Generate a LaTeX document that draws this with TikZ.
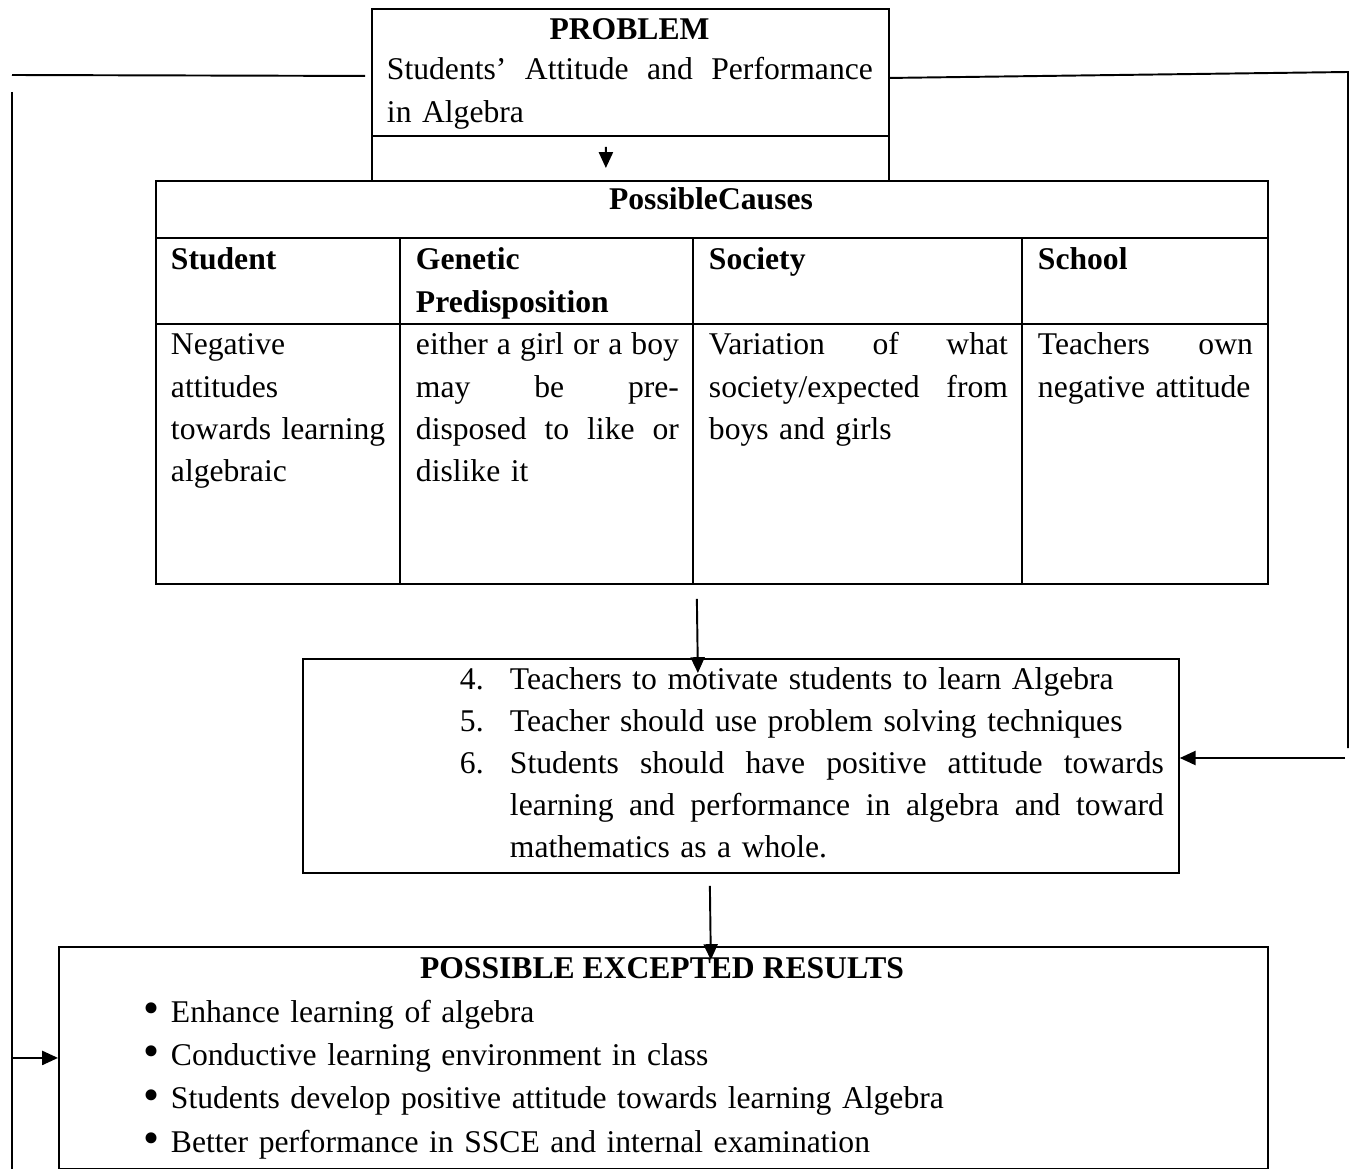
\documentclass[tikz,border=0pt]{standalone}
\usepackage{fontspec}
\usepackage{graphicx}
\setmainfont{Liberation Serif}
\usetikzlibrary{arrows.meta}
\newcommand{\fillline}[2]{\leavevmode\hbox to #1{\spaceskip=0.25em plus 1fil\relax #2}}
\newcommand{\numitem}[1]{\leavevmode\llap{\makebox[1cm][l]{#1}}}
\newcommand{\bulitem}{\leavevmode\llap{\makebox[0.54cm][l]{\raisebox{-0.05em}{\scalebox{1.45}{\textbullet}}}}}

\begin{document}
\begin{tikzpicture}[x=0.02cm,y=-0.02cm,line width=1.1pt,color=black,
    >={Triangle[length=9pt,width=8pt]},
    font=\fontsize{18}{24}\selectfont,
    box/.style={draw,inner sep=0pt,anchor=north west},
    txt/.style={inner sep=0pt,anchor=base west,align=left},
    head/.style={inner sep=0pt,anchor=base,font=\fontsize{18}{24}\selectfont\bfseries},
    bhead/.style={txt,font=\fontsize{18}{24}\selectfont\bfseries}]
\useasboundingbox (0,0) rectangle (1353,1169);
% boxes
\node[box,minimum width=10.34cm,minimum height=2.54cm] (prob) at (371,8) {};
\node[box,minimum width=10.34cm,minimum height=0.9cm] (probsub) at (371,135) {};
\node[box,minimum width=22.24cm,minimum height=8.06cm] (causes) at (155,180) {};
\node[box,minimum width=17.52cm,minimum height=4.28cm] (rec) at (302,658) {};
\node[box,minimum width=24.18cm,minimum height=4.44cm] (res) at (58,946) {};
% table grid
\draw (155,238) -- (1267,238);
\draw (155,324) -- (1267,324);
\foreach \x in {400,693,1022} \draw (\x,238) -- (\x,583);
% problem
\node[head] (ptitle) at (629.5,40) {PROBLEM};
\node[txt,text width=9.72cm] (ptext) at (386,80)
  {\fillline{9.72cm}{Students’ Attitude and Performance}\\in Algebra};
% causes
\node[head] (ctitle) at (711,210) {PossibleCauses};
\node[bhead] (hstud) at (170,270) {Student};
\node[bhead,text width=5.26cm] (hgen) at (415,270) {Genetic\\Predisposition};
\node[bhead] (hsoc) at (708,270) {Society};
\node[bhead] (hsch) at (1037,270) {School};
\node[txt,text width=4.3cm] (bstud) at (170,355)
  {Negative\\attitudes\\towards learning\\algebraic};
\node[txt,text width=5.26cm] (bgen) at (415,355)
  {\fillline{5.26cm}{either a girl or a boy}\\\fillline{5.26cm}{may be pre-}\\
   \fillline{5.26cm}{disposed to like or}\\dislike it};
\node[txt,text width=5.98cm] (bsoc) at (708,355)
  {\fillline{5.98cm}{Variation of what}\\\fillline{5.98cm}{society/expected from}\\boys and girls};
\node[txt,text width=4.3cm] (bsch) at (1037,355)
  {\fillline{4.3cm}{Teachers own}\\negative attitude};
% recommendations
\node[txt,text width=13.08cm] (rtext) at (509,689)
  {\numitem{4.}Teachers to motivate students to learn Algebra\\
   \numitem{5.}Teacher should use problem solving techniques\\
   \numitem{6.}\fillline{13.08cm}{Students should have positive attitude towards}\\
   \fillline{13.08cm}{learning and performance in algebra and toward}\\
   mathematics as a whole.};
% results
\node[head] (rtitle) at (662,978) {POSSIBLE EXCEPTED RESULTS};
\node[txt,text width=20cm,font=\fontsize{18}{24.7}\selectfont] (rlist) at (170,1022)
  {\bulitem Enhance learning of algebra\\
   \bulitem Conductive learning environment in class\\
   \bulitem Students develop positive attitude towards learning Algebra\\
   \bulitem Better performance in SSCE and internal examination};
% connectors
\coordinate (lt) at (12,75);
\coordinate (lv) at (12,92);
\coordinate (lb) at (12,1169);
\coordinate (rt) at (1348,72);
\coordinate (rb) at (1348,748);
\coordinate (rin) at (1345,758);
\draw[->] ([xshift=-0.49cm,yshift=-0.2cm]prob.south) -- ([xshift=-2.12cm,yshift=0.24cm]causes.north);
\draw[->] ([xshift=-0.3cm,yshift=-0.28cm]causes.south) -- ([xshift=-0.86cm,yshift=-0.3cm]rec.north);
\draw[->] ([xshift=-0.62cm,yshift=-0.24cm]rec.south) -- ([xshift=0.95cm,yshift=-0.28cm]res.north);
\draw ([xshift=-0.12cm,yshift=-0.07cm]prob.west) -- (lt);
\draw (lv) -- (lb);
\draw[->] (lv |- res.west) -- (res.west);
\draw ([yshift=-0.11cm]prob.east) -- (rt) -- (rb);
\draw[->] (rin) -- (rin -| rec.east);
\end{tikzpicture}
\end{document}
